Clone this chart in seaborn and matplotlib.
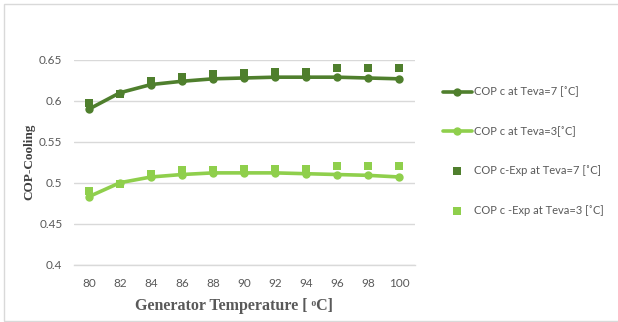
import matplotlib
matplotlib.use("Agg")
import matplotlib.pyplot as plt
import seaborn as sns
from matplotlib.patches import Rectangle

# Generator temperature [°C]
gen_temp = [80, 82, 84, 86, 88, 90, 92, 94, 96, 98, 100]

# Model cooling COP at two evaporator temperatures
cop_teva7 = [0.590, 0.610, 0.620, 0.624, 0.627, 0.628, 0.629, 0.629, 0.629, 0.628, 0.627]
cop_teva3 = [0.483, 0.500, 0.507, 0.510, 0.512, 0.512, 0.512, 0.511, 0.510, 0.509, 0.507]

# Experimental cooling COP
exp_teva7 = [0.597, 0.609, 0.624, 0.629, 0.633, 0.634, 0.635, 0.635, 0.640, 0.640, 0.640]
exp_teva3 = [0.490, 0.499, 0.511, 0.515, 0.516, 0.517, 0.517, 0.517, 0.520, 0.520, 0.520]

y_ticks = [0.4, 0.45, 0.5, 0.55, 0.6, 0.65]
y_tick_labels = ["0.4", "0.45", "0.5", "0.55", "0.6", "0.65"]

labels = [
    "COP c at Teva=7 [˚C]",
    "COP c at Teva=3[˚C]",
    "COP c-Exp at Teva=7 [˚C]",
    "COP c -Exp at Teva=3 [˚C]",
]

dark_green = "#4F7F2D"
light_green = "#8FCF4C"
text_gray = "#595959"

sns.set_theme(style="white")
plt.rcParams["font.family"] = ["Lato", "DejaVu Sans"]

fig = plt.figure(figsize=(6.18, 3.22), dpi=100)
ax = fig.add_axes([73.5 / 618, 1 - 264.5 / 322, 341 / 618, 204.5 / 322])

# outer chart border
fig.patches.append(Rectangle((4 / 618, 1 / 322), 1.0, 317 / 322, transform=fig.transFigure,
                             fill=False, edgecolor="#D9D9D9", linewidth=1.0))

sns.lineplot(x=gen_temp, y=cop_teva7, ax=ax, color=dark_green, linewidth=2.6,
             marker="o", markersize=6, markeredgewidth=0, label=labels[0], zorder=3)
sns.lineplot(x=gen_temp, y=cop_teva3, ax=ax, color=light_green, linewidth=2.6,
             marker="o", markersize=6, markeredgewidth=0, label=labels[1], zorder=3)
sns.scatterplot(x=gen_temp, y=exp_teva7, ax=ax, color=dark_green, marker="s", s=38,
                linewidth=0, label=labels[2], zorder=2)
sns.scatterplot(x=gen_temp, y=exp_teva3, ax=ax, color=light_green, marker="s", s=38,
                linewidth=0, label=labels[3], zorder=2)

ax.set_xlim(79, 101)
ax.set_ylim(0.4, 0.65)
ax.set_xticks(gen_temp)
ax.set_xticklabels([str(t) for t in gen_temp])
ax.set_yticks(y_ticks)
ax.set_yticklabels(y_tick_labels)
ax.tick_params(axis="both", length=0, labelsize=8.5, labelcolor=text_gray, pad=8)
ax.tick_params(axis="x", pad=10)
ax.yaxis.grid(True, color="#D9D9D9", linewidth=1.0)
ax.xaxis.grid(False)
for side in ["top", "right", "left"]:
    ax.spines[side].set_visible(False)
ax.spines["bottom"].set_color("#D9D9D9")
ax.spines["bottom"].set_linewidth(1.0)

ax.set_ylabel("COP-Cooling", family="Liberation Serif", fontweight="bold",
              fontsize=9.5, color="#404040")
ax.yaxis.set_label_coords(-38 / 341, 0.5)
ax.set_xlabel("Generator Temperature [ ᵒC]", family=["Liberation Serif", "DejaVu Serif"],
              fontweight="bold", fontsize=11.5, color=text_gray)
ax.xaxis.set_label_coords(0.47, -33 / 204.5)

ax.legend_.remove()
handles, hl = ax.get_legend_handles_labels()
fig.legend(handles, hl, loc="center left", bbox_to_anchor=(443 / 618, 1 - 151 / 322),
           frameon=False, fontsize=8, labelcolor=text_gray, handlelength=2.6,
           handletextpad=0.15, labelspacing=2.55, borderpad=0, borderaxespad=0)

fig.savefig("out.png", dpi=100)
